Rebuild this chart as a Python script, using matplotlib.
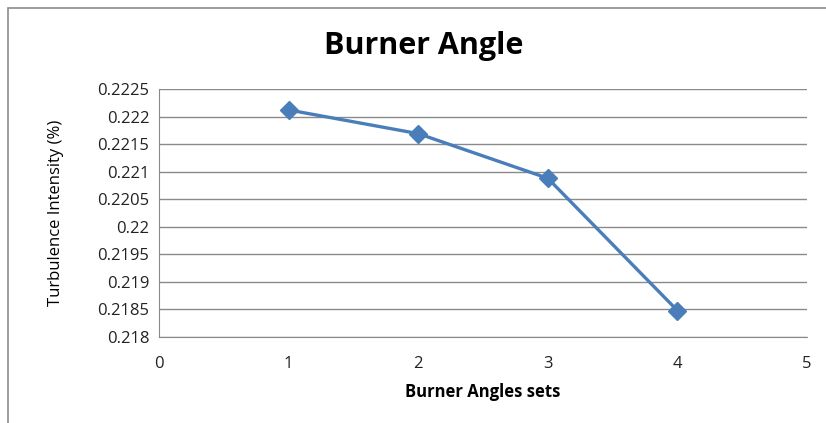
import matplotlib.pyplot as plt
from matplotlib.patches import Rectangle

# data
burner_sets = [1, 2, 3, 4]
turbulence = [0.22212, 0.22169, 0.22088, 0.21848]
y_ticks = [0.218, 0.2185, 0.219, 0.2195, 0.22, 0.2205, 0.221, 0.2215, 0.222, 0.2225]
y_tick_labels = ['0.218', '0.2185', '0.219', '0.2195', '0.22', '0.2205', '0.221', '0.2215', '0.222', '0.2225']
x_ticks = [0, 1, 2, 3, 4, 5]

plt.rcParams['font.family'] = ['Open Sans', 'DejaVu Sans']

fig = plt.figure(figsize=(8.26, 4.23), dpi=100)
# outer chart frame
fig.patches.append(Rectangle((8 / 826, -0.05), 1.1, 1 - 8 / 423 + 0.05,
                             transform=fig.transFigure, fill=False,
                             edgecolor='#8c8c8c', linewidth=1.2))

ax = fig.add_axes([159 / 826, 1 - 337 / 423, (807 - 159) / 826, (337 - 89) / 423])

ax.plot(burner_sets, turbulence, color='#4a7ebb', linewidth=2.4,
        marker='D', markersize=9, markerfacecolor='#4a7ebb', markeredgecolor='#4a7ebb')

ax.set_xlim(0, 5)
ax.set_ylim(0.218, 0.2225)
ax.set_xticks(x_ticks)
ax.set_yticks(y_ticks)
ax.set_yticklabels(y_tick_labels)
ax.tick_params(length=0, labelsize=12, colors='#222222', pad=7)
ax.tick_params(axis='x', pad=14)

ax.grid(True, axis='y', color='#8a8a8a', linewidth=1)
ax.set_axisbelow(True)
for s in ['top', 'right']:
    ax.spines[s].set_visible(False)
ax.spines['left'].set_color('#8a8a8a')
ax.spines['bottom'].set_color('#8a8a8a')

fig.text(424 / 826, 1 - 46 / 423, 'Burner Angle', fontsize=22, fontweight='bold',
         ha='center', va='center')
ax.set_xlabel('Burner Angles sets', fontsize=12, fontweight='bold')
ax.xaxis.set_label_coords((483 - 159) / 648, -(383 - 337) / 248)
ax.set_ylabel('Turbulence Intensity (%)', fontsize=12)
ax.yaxis.set_label_coords(-(159 - 64) / 648, 0.5)

fig.savefig('out.png', dpi=100)
